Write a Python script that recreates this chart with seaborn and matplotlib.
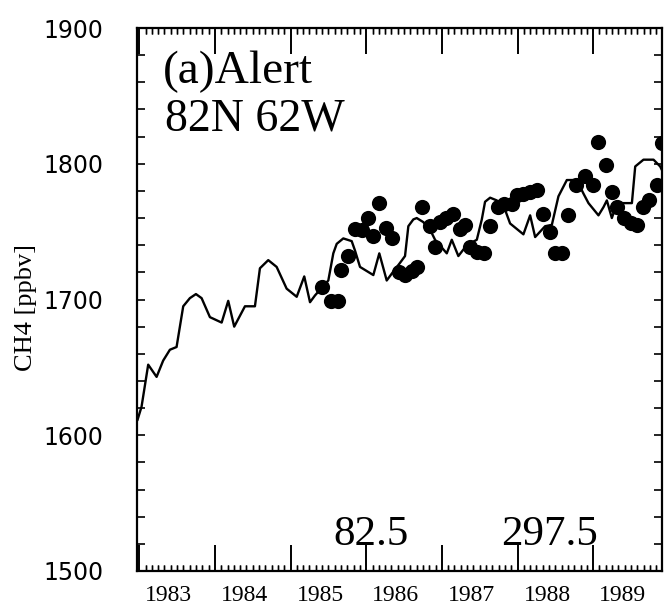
import matplotlib
matplotlib.use("Agg")
import matplotlib.pyplot as plt
import matplotlib.transforms as mtransforms
import seaborn as sns
from matplotlib.ticker import FixedLocator, MultipleLocator

# ---- data ----
model_year = [1982.975, 1983.03, 1983.118, 1983.229, 1983.316, 1983.405, 1983.493, 1983.581,
              1983.669, 1983.749, 1983.824, 1983.934, 1984.089, 1984.176, 1984.255, 1984.397,
              1984.529, 1984.595, 1984.705, 1984.816, 1984.948, 1985.081, 1985.181, 1985.257,
              1985.323, 1985.499, 1985.565, 1985.61, 1985.697, 1985.808, 1985.852, 1985.918,
              1986.094, 1986.173, 1986.271, 1986.337, 1986.447, 1986.513, 1986.557, 1986.623,
              1986.668, 1986.755, 1986.866, 1986.91, 1987.065, 1987.131, 1987.218, 1987.329,
              1987.462, 1987.528, 1987.571, 1987.638, 1987.726, 1987.836, 1987.902, 1988.078,
              1988.167, 1988.233, 1988.365, 1988.454, 1988.541, 1988.652, 1988.784, 1988.872,
              1988.938, 1989.07, 1989.136, 1989.181, 1989.247, 1989.314, 1989.512, 1989.556,
              1989.665, 1989.798, 1989.886, 1989.93]
model_ch4 = [1611, 1621, 1652, 1643, 1655, 1663, 1665, 1695,
             1701, 1704, 1701, 1687, 1683, 1699, 1680, 1695,
             1695, 1723, 1729, 1724, 1708, 1702, 1717, 1698,
             1703, 1714, 1734, 1741, 1745, 1743, 1736, 1724,
             1718, 1734, 1714, 1719, 1727, 1732, 1754, 1759,
             1760, 1757, 1749, 1744, 1734, 1744, 1732, 1740,
             1744, 1759, 1772, 1775, 1773, 1766, 1756, 1748,
             1762, 1746, 1754, 1755, 1776, 1788, 1788, 1778,
             1771, 1762, 1768, 1773, 1760, 1771, 1771, 1798,
             1803, 1803, 1798, 1793]

obs_year = [1985.422, 1985.528, 1985.627, 1985.667, 1985.759, 1985.852, 1985.938, 1986.024,
            1986.09, 1986.169, 1986.262, 1986.335, 1986.427, 1986.513, 1986.599, 1986.665,
            1986.738, 1986.844, 1986.91, 1986.97, 1987.056, 1987.152, 1987.241, 1987.307,
            1987.373, 1987.466, 1987.558, 1987.638, 1987.737, 1987.823, 1987.922, 1987.991,
            1988.078, 1988.167, 1988.255, 1988.343, 1988.425, 1988.497, 1988.586, 1988.667,
            1988.775, 1988.894, 1989.004, 1989.07, 1989.176, 1989.251, 1989.317, 1989.403,
            1989.496, 1989.578, 1989.665, 1989.741, 1989.843, 1989.909]
obs_ch4 = [1709, 1699, 1699, 1722, 1732, 1752, 1751, 1760,
           1747, 1771, 1753, 1745, 1720, 1718, 1721, 1724,
           1768, 1754, 1739, 1757, 1760, 1763, 1752, 1755,
           1739, 1735, 1734, 1754, 1768, 1770, 1770, 1777,
           1778, 1779, 1781, 1763, 1750, 1734, 1734, 1762,
           1784, 1791, 1784, 1816, 1799, 1779, 1768, 1760,
           1756, 1755, 1768, 1773, 1784, 1815]

year_ticks = [1983, 1984, 1985, 1986, 1987, 1988, 1989]
year_labels = ["1983", "1984", "1985", "1986", "1987", "1988", "1989"]
y_ticks = [1500, 1600, 1700, 1800, 1900]
y_label = "CH4 [ppbv]"
panel_title = "(a)Alert"
station_pos = "82N 62W"
stat_values = ["82.5", "297.5"]

# ---- figure ----
sns.set_theme(style="ticks")
plt.rcParams.update({'font.family': ['DejaVu Sans'], 'axes.edgecolor': 'black',
                     'axes.linewidth': 1.6})
serif = ['Liberation Serif', 'DejaVu Serif']

XLIM = (1982.97, 1989.91)
rect = [137/667, 1 - 571/606, 525/667, 543/606]
month_ticks = [1982 + 11/12 + k/12 for k in range(0, 90)]

fig = plt.figure(figsize=(6.67, 6.06), dpi=100)
ax = fig.add_axes(rect)
ax.set_axisbelow(False)

sns.lineplot(x=model_year, y=model_ch4, ax=ax, color='black', linewidth=1.7, sort=False,
             estimator=None, zorder=2)
sns.scatterplot(x=obs_year, y=obs_ch4, ax=ax, color='black', s=120, linewidth=0, zorder=2.2)
ax.set_xlim(*XLIM)
ax.set_ylim(1500, 1900)

# ticks on the data axes
ax.xaxis.set_major_locator(FixedLocator(year_ticks))
ax.xaxis.set_minor_locator(FixedLocator(month_ticks))
ax.tick_params(axis='x', which='major', direction='in', length=19, width=1.2,
               top=True, bottom=True, labelbottom=False, labeltop=False, color='black')
ax.tick_params(axis='x', which='minor', direction='in', length=4.5, width=1.0,
               top=True, bottom=True, color='black')
ax.set_yticks(y_ticks)
ax.yaxis.set_minor_locator(MultipleLocator(20))
ax.tick_params(axis='y', which='both', direction='in', length=6, width=1.2,
               left=True, right=True, color='black')
ax.tick_params(axis='y', which='major', labelsize=17, pad=24, labelcolor='black')

# year labels centred in each year interval
trans = mtransforms.blended_transform_factory(ax.transData, ax.transAxes)
for yr, lab in zip(year_ticks, year_labels):
    ax.text(yr + 0.39, -0.026, lab, transform=trans, ha='center', va='top',
            fontfamily=serif, fontsize=17, color='black')

ax.set_xlabel("")
ax.set_ylabel(y_label, fontfamily=serif, fontsize=19, color='black')
ax.yaxis.set_label_coords(-0.19, 0.486)

ax.text(0.05, 0.899, panel_title, transform=ax.transAxes, fontfamily=serif,
        fontsize=34, va='baseline', ha='left', color='black')
ax.text(0.053, 0.812, station_pos, transform=ax.transAxes, fontfamily=serif,
        fontsize=33, va='baseline', ha='left', color='black')
ax.text(0.446, 0.048, stat_values[0], transform=ax.transAxes, fontfamily=serif,
        fontsize=31, va='baseline', ha='center', color='black')
ax.text(0.785, 0.048, stat_values[1], transform=ax.transAxes, fontfamily=serif,
        fontsize=31, va='baseline', ha='center', color='black')

# transparent overlay axes carrying the x tick marks (top and bottom)
axt = fig.add_axes(rect, label='tick_overlay')
axt.patch.set_visible(False)
for sp in axt.spines.values():
    sp.set_visible(False)
axt.set_xlim(*XLIM)
axt.set_ylim(0, 1)
axt.xaxis.set_major_locator(FixedLocator(year_ticks))
axt.xaxis.set_minor_locator(FixedLocator(month_ticks))
axt.tick_params(axis='x', which='major', direction='in', length=19, width=1.2,
                top=True, bottom=True, labelbottom=False, labeltop=False, color='black')
axt.tick_params(axis='x', which='minor', direction='in', length=4.5, width=1.0,
                top=True, bottom=True, labelbottom=False, labeltop=False, color='black')
axt.set_yticks([])
axt.tick_params(axis='y', which='both', left=False, right=False,
                labelleft=False, labelright=False)
axt.grid(False)

fig.savefig("out.png", dpi=100, facecolor='white')
